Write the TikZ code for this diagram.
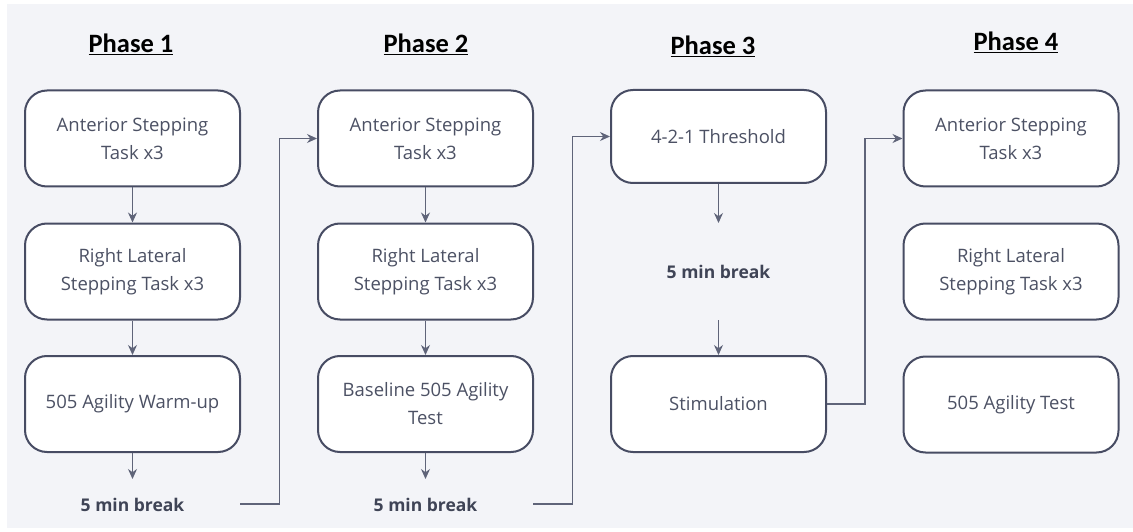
\documentclass[tikz,border=0pt]{standalone}
\usepackage{fontspec}
\setmainfont{Open Sans}
\newfontfamily\titlefont{Carlito}
\usetikzlibrary{arrows.meta}
\definecolor{panel}{HTML}{F3F4F8}
\definecolor{edge}{HTML}{474C63}
\definecolor{wire}{HTML}{5F6479}
\definecolor{txt}{HTML}{4C5164}
\definecolor{brk}{HTML}{3F4456}
\tikzset{
  x=1pt, y=-1pt,
  stepbox/.style={draw=edge, line width=2pt, fill=white, rounded corners=22pt,
    minimum width=215pt, minimum height=96pt, align=center, text=txt,
    font=\fontsize{18.5}{28}\selectfont, inner sep=0pt},
  title/.style={font=\titlefont\bfseries\fontsize{26.5}{30}\selectfont, text=black},
  brktext/.style={font=\bfseries\fontsize{17.5}{20}\selectfont, text=brk},
  flow/.style={draw=wire, line width=1.3pt, -{Stealth[length=10pt,width=9pt]}},
}
\begin{document}
\begin{tikzpicture}
\useasboundingbox (0,0) rectangle (1133,532);
\fill[white] (0,0) rectangle (1133,532);
\fill[panel] (7,4) rectangle (1133,528);

% phase headings
\node[title] (h1) at (131,44) {\underline{Phase 1}};
\node[title] (h2) at (426,44) {\underline{Phase 2}};
\node[title] (h3) at (713,46) {\underline{Phase 3}};
\node[title] (h4) at (1016,42) {\underline{Phase 4}};

% phase 1
\node[stepbox] (a1) at (132.5,138.5) {Anterior Stepping\\Task x3};
\node[stepbox] (a2) at (132.5,271.5) {Right Lateral\\Stepping Task x3};
\node[stepbox] (a3) at (132.5,404) {505 Agility Warm-up};
\node[brktext] (ab) at (132.5,505) {5 min break};
\coordinate (a3t) at (132.5,479);

% phase 2
\node[stepbox] (b1) at (425.5,138.5) {Anterior Stepping\\Task x3};
\node[stepbox] (b2) at (425.5,271.5) {Right Lateral\\Stepping Task x3};
\node[stepbox] (b3) at (425.5,404) {Baseline 505 Agility\\Test};
\node[brktext] (bb) at (425.5,505) {5 min break};
\coordinate (b3t) at (425.5,479);

% phase 3
\node[stepbox, minimum height=93pt] (c1) at (718.5,136.5) {4-2-1 Threshold};
\node[brktext] (cb) at (718.5,272) {5 min break};
\node[stepbox] (c2) at (718.5,404) {Stimulation};
\coordinate (c1t) at (718.5,223);
\coordinate (c2s) at (718.5,320);

% phase 4
\node[stepbox] (d1) at (1011,138.5) {Anterior Stepping\\Task x3};
\node[stepbox] (d2) at (1011,271.5) {Right Lateral\\Stepping Task x3};
\node[stepbox] (d3) at (1011,404.5) {505 Agility Test};

% arrows inside each phase
\draw[flow] (a1) -- (a2);
\draw[flow] (a2) -- (a3);
\draw[flow] (a3) -- (a3t);
\draw[flow] (b1) -- (b2);
\draw[flow] (b2) -- (b3);
\draw[flow] (b3) -- (b3t);
\draw[flow] (c1) -- (c1t);
\draw[flow] (c2s) -- (c2);

% hand-offs between phases
\coordinate (ae) at (240,504);
\coordinate (be) at (533,504);
\draw[flow] (ae) -- (279.5,504) |- (b1.west);
\draw[flow] (be) -- (572.5,504) |- (c1.west);
\draw[flow] (c2.east) -- (865,404) |- (d1.west);
\end{tikzpicture}
\end{document}
